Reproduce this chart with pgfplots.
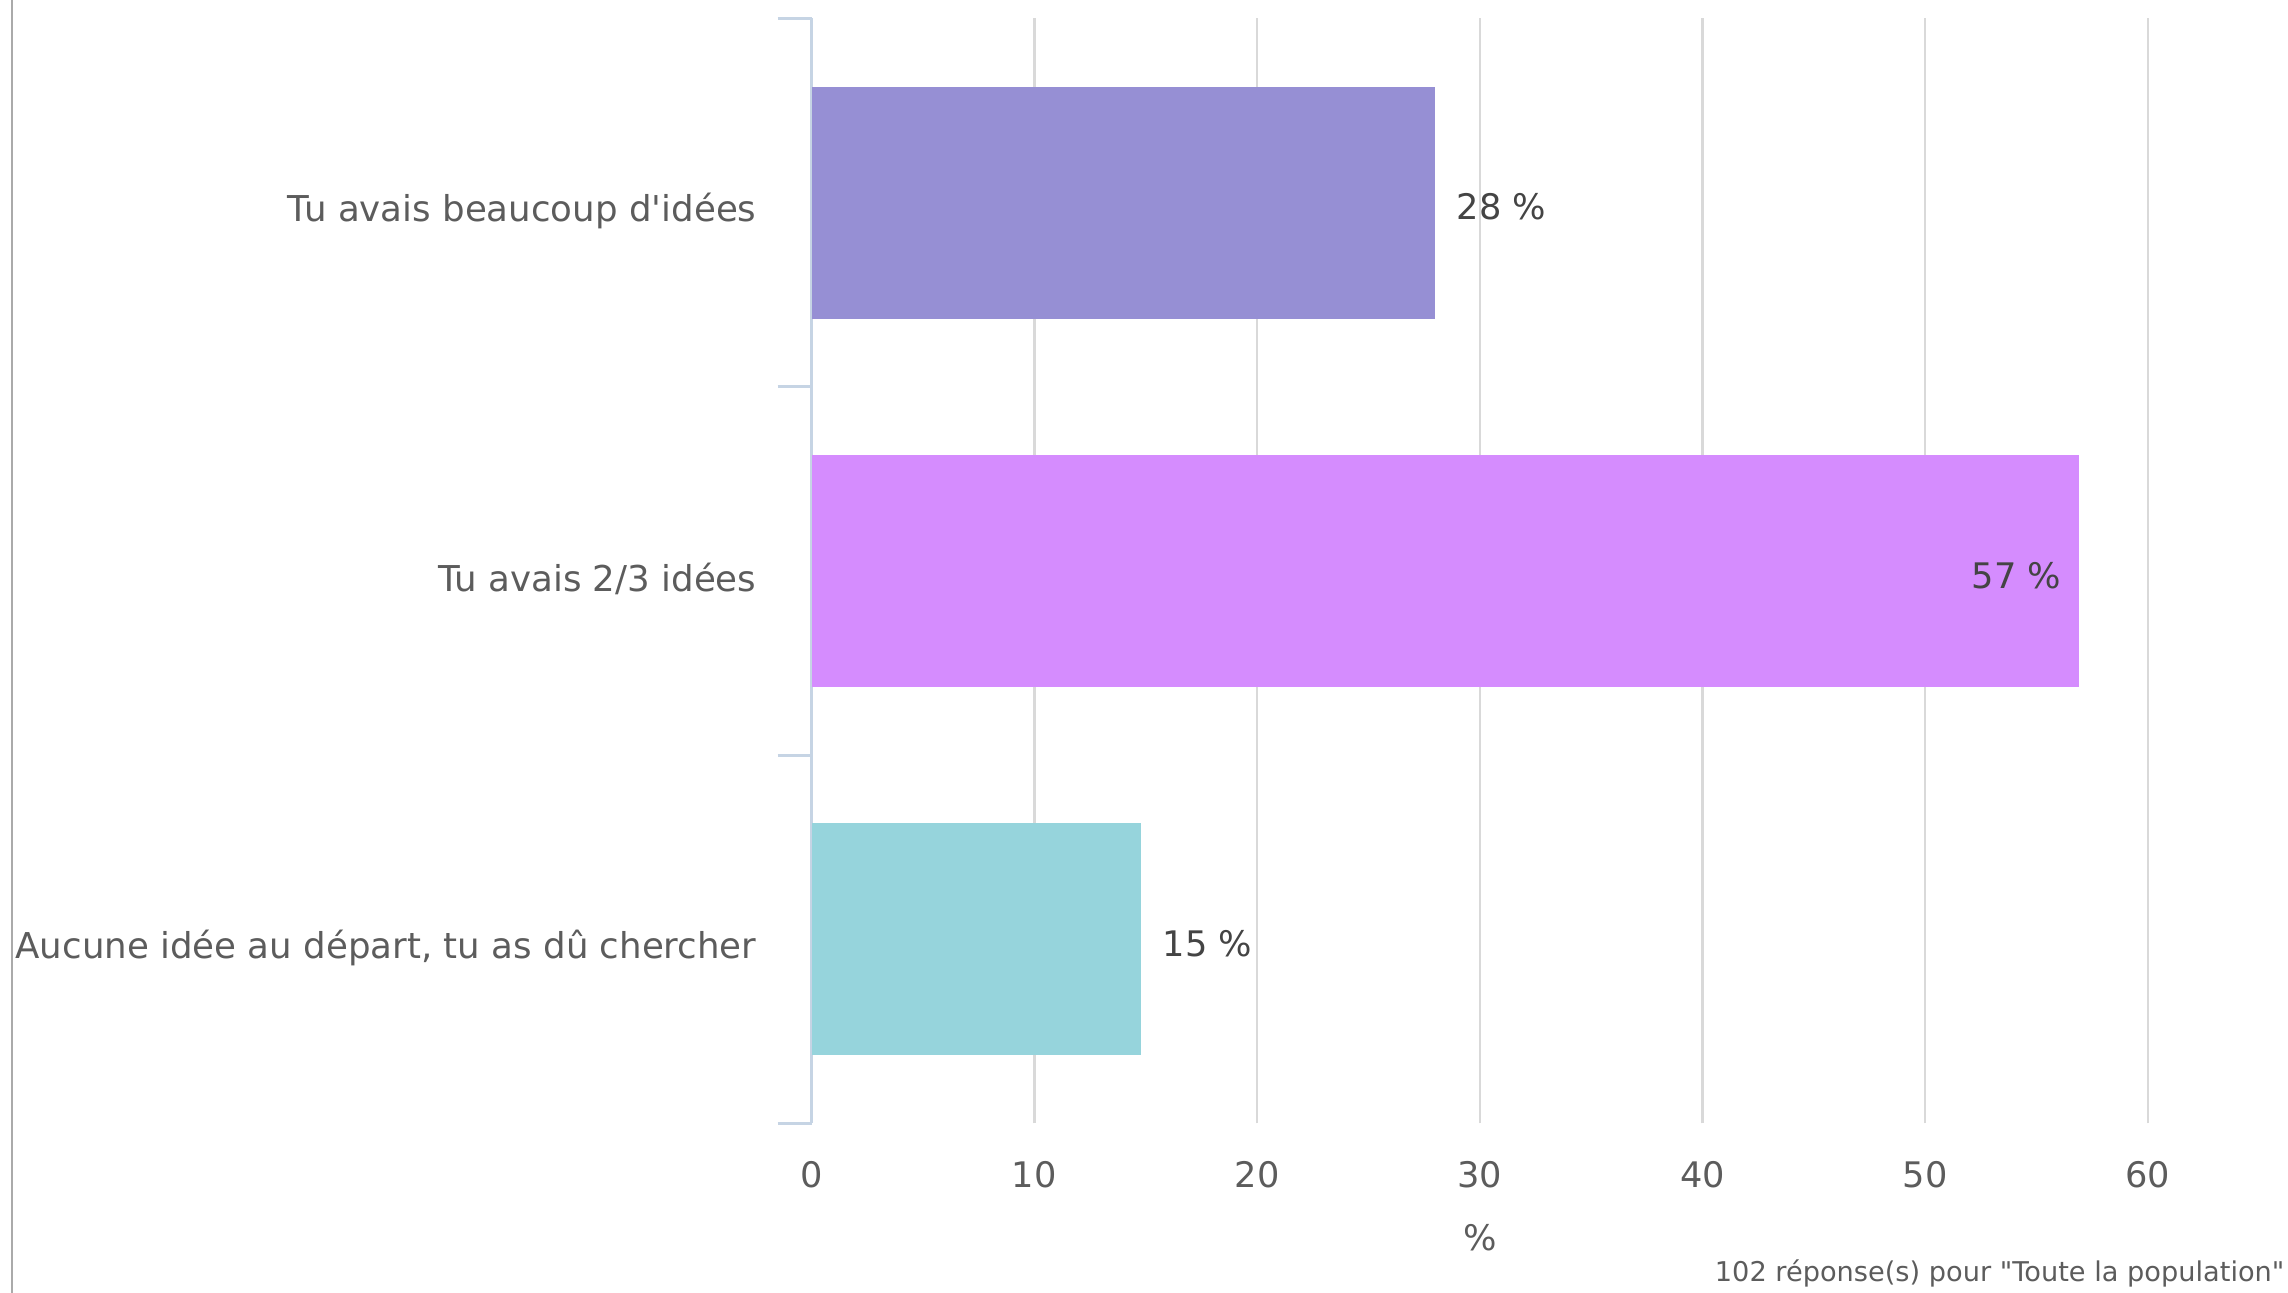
\documentclass[border=0pt]{standalone}
\usepackage{fontspec}
\setmainfont{DejaVu Sans}[Ligatures=TeXOff]
\usepackage{pgfplots}
\pgfplotsset{compat=1.18}
\definecolor{barA}{HTML}{968FD4}
\definecolor{barB}{HTML}{D58CFE}
\definecolor{barC}{HTML}{96D4DC}
\definecolor{axisc}{HTML}{C6D4E4}
\definecolor{gridc}{HTML}{D9D9D9}
\definecolor{labc}{HTML}{5C5C5C}
\definecolor{valc}{HTML}{444444}
\definecolor{borderc}{HTML}{AAAAAA}
\begin{document}
\begin{tikzpicture}[x=1pt,y=1pt]
\useasboundingbox (0,0) rectangle (572,323.25);
\draw[borderc, line width=0.5pt] (3,0) -- (3,323.25);
\begin{axis}[
  at={(202.9pt,42.4pt)}, anchor=south west,
  scale only axis, width=334.1pt, height=276.25pt,
  xbar, bar shift=0pt, bar width=58pt,
  xmin=0, xmax=60, ymin=-0.5, ymax=2.5,
  xtick={0,10,...,60}, ytick={0,1,2},
  minor ytick={-0.5,0.5,1.5,2.5},
  yticklabels={{Aucune idée au départ, tu as dû chercher},{Tu avais 2/3 idées},{Tu avais beaucoup d'idées}},
  axis x line*=bottom, axis y line*=left,
  axis line style={-},
  x axis line style={draw=none},
  y axis line style={axisc, line width=0.75pt},
  major tick length=0pt, minor tick length=8.5pt,
  tick align=outside,
  tick style={axisc, line width=0.75pt},
  xmajorgrids, ymajorgrids=false,
  major grid style={gridc, line width=0.6pt},
  /pgf/number format/assume math mode=true,
  ticklabel style={font=\fontsize{8.8}{10}\selectfont, text=labc},
  yticklabel style={anchor=east, inner sep=0pt, xshift=-13.6pt, yshift=-2.1pt, font=\fontsize{8.9}{10}\selectfont},
  xticklabel style={anchor=north, inner sep=0pt, yshift=-9.25pt},
  xlabel={\%},
  every axis x label/.style={at={(axis description cs:0.5,0)}, anchor=north, inner sep=0pt, yshift=-25.1pt, font=\fontsize{8.8}{10}\selectfont, text=labc},
  clip=false,
]
\addplot[fill=barC, draw=none, nodes near coords, point meta=explicit symbolic,
  every node near coord/.append style={anchor=west, inner sep=0pt, xshift=5.2pt, yshift=-1.1pt, text=valc, font=\fontsize{8.8}{10}\selectfont}]
  coordinates {(14.8,0) [15 \%]};
\addplot[fill=barB, draw=none, nodes near coords, point meta=explicit symbolic,
  every node near coord/.append style={anchor=east, inner sep=0pt, xshift=-4.2pt, yshift=-1.1pt, text=valc, font=\fontsize{8.8}{10}\selectfont}]
  coordinates {(56.9,1) [57 \%]};
\addplot[fill=barA, draw=none, nodes near coords, point meta=explicit symbolic,
  every node near coord/.append style={anchor=west, inner sep=0pt, xshift=5.2pt, yshift=-1.1pt, text=valc, font=\fontsize{8.8}{10}\selectfont}]
  coordinates {(28.0,2) [28 \%]};
\end{axis}
\node[anchor=base east, inner sep=0pt, font=\fontsize{6.8}{8}\selectfont, text=labc] at (571.3,2.75) {102 réponse(s) pour "Toute la population"};
\end{tikzpicture}
\end{document}
